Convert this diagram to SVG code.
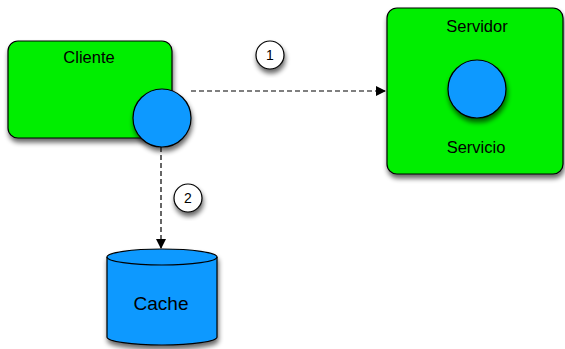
<svg xmlns="http://www.w3.org/2000/svg" width="565" height="349" viewBox="0 0 565 349">
<defs>
<filter id="sh" x="-20%" y="-20%" width="150%" height="150%">
<feGaussianBlur in="SourceAlpha" stdDeviation="2.5"/>
<feOffset dx="1" dy="4" result="b"/>
<feComponentTransfer><feFuncA type="linear" slope="0.6"/></feComponentTransfer>
<feMerge><feMergeNode/><feMergeNode in="SourceGraphic"/></feMerge>
</filter>
<marker id="ah" markerWidth="10" markerHeight="10" refX="9" refY="5" orient="auto" markerUnits="userSpaceOnUse">
<path d="M0,0 L10,5 L0,10 Z" fill="#000"/>
</marker>
<style>
.box{fill:#00ee00;stroke:#000;stroke-width:1.2}
.blue{fill:#1199ff;stroke:#000;stroke-width:1.2}
.lbl{fill:#fff;stroke:#000;stroke-width:1.2}
.t{font-family:"Liberation Sans",Arial,sans-serif;font-size:16.5px;fill:#000;text-anchor:middle}
.n{font-size:14px}
.c{stroke:#000;stroke-width:1.2;stroke-dasharray:5,3;fill:none}
</style>
</defs>
<g id="connectors">
<line class="c" x1="191" y1="91" x2="385" y2="91" marker-end="url(#ah)"/>
<line class="c" x1="161" y1="147" x2="161" y2="248" marker-end="url(#ah)"/>
</g>
<g id="label1" filter="url(#sh)"><circle class="lbl" cx="270" cy="55" r="14"/></g>
<text class="t n" x="270" y="60">1</text>
<g id="label2" filter="url(#sh)"><circle class="lbl" cx="188" cy="198" r="14"/></g>
<text class="t n" x="188" y="203">2</text>
<g id="cliente">
<rect class="box" x="8" y="41" width="164" height="97" rx="10" filter="url(#sh)"/>
<text class="t" x="89" y="63">Cliente</text>
<circle class="blue" cx="162" cy="118" r="29" filter="url(#sh)"/>
</g>
<g id="servidor">
<rect class="box" x="387" y="8" width="176" height="166" rx="10" filter="url(#sh)"/>
<text class="t" x="477" y="32">Servidor</text>
<circle class="blue" cx="477" cy="89" r="29" filter="url(#sh)"/>
<text class="t" x="476" y="153">Servicio</text>
</g>
<g id="cache">
<path class="blue" filter="url(#sh)" d="M107,257 A55,8 0 0 1 217,257 L217,337 A55,8 0 0 1 107,337 Z"/>
<path d="M107,257 A55,8 0 0 0 217,257" fill="none" stroke="#000" stroke-width="1.2"/>
<text class="t" x="161" y="310" style="font-size:19px">Cache</text>
</g>
</svg>
